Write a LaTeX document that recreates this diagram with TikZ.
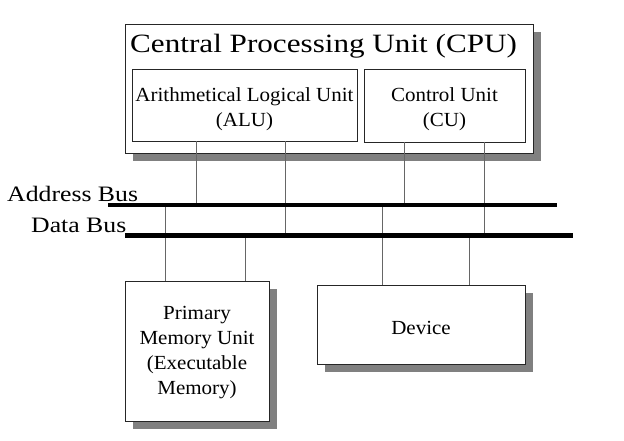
\documentclass[tikz,border=0pt]{standalone}
\usepackage{fontspec}
\usepackage{tikz}
\usetikzlibrary{shadows}
\setmainfont{Liberation Serif}
\newfontfamily\titlefont{Liberation Serif}[FakeStretch=1.18]
\newfontfamily\busfont{Liberation Serif}[FakeStretch=1.17]
\newfontfamily\unitfont{Liberation Serif}[FakeStretch=1.05]

\begin{document}
\begin{tikzpicture}[x=1pt, y=-1pt,
    unit/.style={draw=black!85, line width=0.9pt, fill=white, inner sep=0pt},
    unittext/.style={inner sep=0pt, align=center, font=\unitfont\fontsize{20}{25}\selectfont},
    shade/.style={drop shadow={shadow xshift=8pt, shadow yshift=-8pt, fill=gray, opacity=1}},
    wire/.style={draw=black!60, line width=1.2pt},
    bus/.style={line width=4.5pt},
    buslabel/.style={inner sep=0pt, anchor=base west, font=\busfont\fontsize{22}{26}\selectfont}]
    \path[fill=white] (0,0) rectangle (624,441) ;
    \useasboundingbox (0,0) rectangle (624,441) ;

    \node[unit, shade, minimum width=408, minimum height=129] (cpu) at (329,88.5) {} ;
    \node[inner sep=0pt, anchor=base west, font=\titlefont\fontsize{26.4}{30}\selectfont] (cputitle) at (130,53) {Central Processing Unit (CPU)} ;
    \node[unit, minimum width=225, minimum height=72] (alu) at (244.5,105) {} ;
    \node[unittext] (alutext) at ([yshift=-4pt]alu.center) {Arithmetical Logical Unit\\(ALU)} ;
    \node[unit, minimum width=161, minimum height=73] (cu) at (444.5,105.5) {} ;
    \node[unittext] (cutext) at ([yshift=-4pt]cu.center) {Control Unit\\(CU)} ;

    \node[unit, shade, minimum width=144, minimum height=140] (mem) at (197,351) {} ;
    \node[unittext] (memtext) at ([yshift=-2pt]mem.center) {Primary\\Memory Unit\\(Executable\\Memory)} ;
    \node[unit, shade, minimum width=208, minimum height=79] (dev) at (421,324.5) {} ;
    \node[unittext] (devtext) at ([yshift=-3pt]dev.center) {Device} ;

    \coordinate (abusA) at (108,205) ;
    \coordinate (abusB) at (557,205) ;
    \coordinate (dbusA) at (125,235.5) ;
    \coordinate (dbusB) at (573,235.5) ;
    \node[buslabel] (abuslabel) at (7,201) {Address Bus} ;
    \node[buslabel] (dbuslabel) at (31,232) {Data Bus} ;

    \draw[wire] ([xshift=65pt]alu.south west) -- ([xshift=65pt]alu.south west |- abusA) ;
    \draw[wire] ([xshift=154pt]alu.south west) -- ([xshift=154pt]alu.south west |- dbusA) ;
    \draw[wire] ([xshift=41pt]cu.south west) -- ([xshift=41pt]cu.south west |- abusA) ;
    \draw[wire] ([xshift=121pt]cu.south west) -- ([xshift=121pt]cu.south west |- dbusA) ;
    \draw[wire] ([xshift=41pt]mem.north west) -- ([xshift=41pt]mem.north west |- abusA) ;
    \draw[wire] ([xshift=121pt]mem.north west) -- ([xshift=121pt]mem.north west |- dbusA) ;
    \draw[wire] ([xshift=66pt]dev.north west) -- ([xshift=66pt]dev.north west |- abusA) ;
    \draw[wire] ([xshift=153pt]dev.north west) -- ([xshift=153pt]dev.north west |- dbusA) ;

    \draw[bus] (abusA) -- (abusB) ;
    \draw[bus] (dbusA) -- (dbusB) ;

\end{tikzpicture}
\end{document}
